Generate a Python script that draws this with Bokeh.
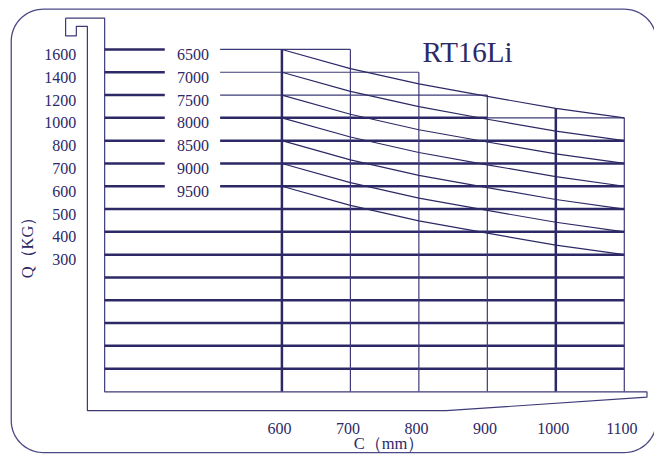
import numpy as np
from bokeh.plotting import figure
from bokeh.models import Range1d
from bokeh.core.properties import value
from bokeh.embed import file_html
from bokeh.resources import INLINE

# ---------------- data ----------------
C_mm = [600, 700, 800, 900, 1000, 1100]                     # load centre (mm)
Q_ticks = [1600, 1400, 1200, 1000, 800, 700, 600, 500, 400, 300]  # capacity labels (kg)
mast_heights = [6500, 7000, 7500, 8000, 8500, 9000, 9500]   # lift heights (mm)

cap_6500 = [1600, 1432, 1298, 1188, 1084, 1000]
cap_7000 = [1400, 1232, 1098, 988, 884, 800]
cap_7500 = [1200, 1032, 896, 794, 742, 700]
cap_8000 = [1000, 832, 748, 694, 642, 600]
cap_8500 = [800, 716, 648, 594, 542, 500]
cap_9000 = [700, 616, 548, 494, 442, 400]
cap_9500 = [600, 516, 448, 394, 342, 300]
curves = [cap_6500, cap_7000, cap_7500, cap_8000, cap_8500, cap_9000, cap_9500]

column_top = [1600, 1600, 1400, 1200, 1084, 1000]           # top of each C column (kg)
title = "RT16Li"
n_grid_rows = 15

# ---------------- layout helpers (reference px -> data) ----------------
REF_W, REF_H = 670, 470
W, H = 654, 454
X0_PX, PX_PER_MM = 288.3, 0.7015
Y0_PX, PX_PER_ROW = 50.7, 23.6
def sx(px):
    return 600 + (px - X0_PX) / PX_PER_MM
def sy(px):
    return (px - Y0_PX) / PX_PER_ROW

label_rows = np.arange(len(Q_ticks))
def kg_row(kg):
    return np.interp(kg, Q_ticks[::-1], label_rows[::-1])

INK = "#2c2966"
THIN_C = "#3d3a78"
THICK, THIN = 2.5, 1.2
FONT = value("Liberation Serif")

p = figure(width=W, height=H, output_backend="svg", toolbar_location=None,
           x_range=Range1d(sx(0), sx(REF_W)), y_range=Range1d(sy(REF_H), sy(0)),
           x_axis_type=None, y_axis_type=None, min_border=0,
           outline_line_color=None, background_fill_color="white",
           border_fill_color="white")
p.grid.visible = False

# rounded outer border
def rounded(l, t, r, b, R, n=20):
    pts = []
    for cx, cy, a0 in [(r - R, t + R, -90), (r - R, b - R, 0), (l + R, b - R, 90), (l + R, t + R, 180)]:
        for a in np.linspace(a0, a0 + 90, n):
            pts.append((cx + R * np.cos(np.radians(a)), cy + R * np.sin(np.radians(a))))
    pts.append(pts[0])
    return [sx(x) for x, _ in pts], [sy(y) for _, y in pts]
bx, by = rounded(11, 9, 672, 468, 33)
p.line(bx, by, line_color="#4b4886", line_width=1.3)

# mast / fork outline
mast_px = [(66.7, 18.3), (106.7, 18.3), (106.7, 405.1), (662.3, 405.1), (662.3, 410.7),
           (456.7, 424.6), (89, 424.6), (89, 26.7), (77.7, 26.7), (77.7, 36.7), (66.7, 36.7), (66.7, 18.3)]
p.line([sx(x) for x, _ in mast_px], [sy(y) for _, y in mast_px], line_color=THIN_C, line_width=THIN)

x_left = sx(106.7)
gap_l, gap_r = sx(168.3), sx(225)

# horizontal grid rows
for i in range(n_grid_rows):
    if i < len(mast_heights):
        p.line([x_left, gap_l], [i, i], line_color=INK, line_width=THICK)
        kg = Q_ticks[i]
        end = max(c for c, t in zip(C_mm, column_top) if t >= kg)
        if i < 3:
            p.line([gap_r, end], [i, i], line_color=THIN_C, line_width=THIN)
        elif i == 3:
            p.line([gap_r, 900], [i, i], line_color=INK, line_width=THICK)
            p.line([900, end], [i, i], line_color=THIN_C, line_width=THIN)
        else:
            p.line([gap_r, end], [i, i], line_color=INK, line_width=THICK)
    else:
        p.line([x_left, C_mm[-1]], [i, i], line_color=INK, line_width=THICK)

# vertical columns
for c, t in zip(C_mm, column_top):
    thick = c in (600, 1000)
    p.line([c, c], [float(kg_row(t)), n_grid_rows], line_color=INK if thick else THIN_C,
           line_width=THICK if thick else THIN)

# capacity curves
for cv in curves:
    p.line(C_mm, kg_row(cv), line_color=INK, line_width=THIN)

# texts
base = 5.3 / PX_PER_ROW
p.text(x=[sx(77.7)] * len(Q_ticks), y=list(label_rows + base), text=[str(q) for q in Q_ticks],
       text_align="right", text_baseline="alphabetic", text_font=FONT,
       text_font_size="16px", text_color=INK)
p.text(x=[sx(197.2)] * len(mast_heights), y=list(np.arange(len(mast_heights)) + base),
       text=[str(h) for h in mast_heights], text_align="center", text_baseline="alphabetic",
       text_font=FONT, text_font_size="16px", text_color=INK)
p.text(x=[c - 2.5 / PX_PER_MM for c in C_mm], y=[sy(443)] * len(C_mm), text=[str(c) for c in C_mm],
       text_align="center", text_baseline="alphabetic", text_font=FONT,
       text_font_size="16px", text_color=INK)
p.text(x=[sx(478.5)], y=[sy(53.3)], text=[title], text_align="center", text_baseline="alphabetic",
       text_font=FONT, text_font_size="29px", text_color=INK)
p.text(x=[sx(398)], y=[sy(458.5)], text=["C（mm）"], text_align="center", text_baseline="middle",
       text_font=FONT, text_font_size="16.5px", text_color=INK)
p.text(x=[sx(28)], y=[sy(251.5)], text=["Q（KG）"], angle=np.pi / 2, text_align="center",
       text_baseline="middle", text_font=FONT, text_font_size="16.5px", text_color=INK)

open("out.html", "w").write(file_html(p, INLINE))
